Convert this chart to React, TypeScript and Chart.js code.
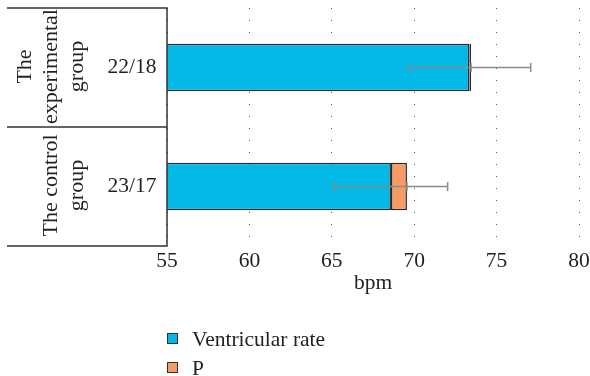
import React, { useEffect, useRef } from 'react';
import { Chart, registerables } from 'chart.js';

Chart.register(...registerables);

const categories = ['The experimental group', 'The control group'];
const groupLines = [['The', 'experimental', 'group'], ['The control', 'group']];
const sampleLabels = ['22/18', '23/17'];
const ventricularRate = [73.35, 68.59];
const pValues = [0.1, 0.97];
const errLow = [69.7, 65.15];
const errHigh = [77.07, 72.03];
const xMin = 55;
const xMax = 80;
const xStep = 5;
const xTitle = 'bpm';
const seriesNames = ['Ventricular rate', 'P'];
const seriesColors = ['#03B7E6', '#F89A66'];

const FONT = "'Liberation Serif', 'Times New Roman', serif";
const TEXT = '#231f20';
const FS = 21.5;

const tablePlugin = {
  id: 'tablePlugin',
  afterDraw(chart: any) {
    const { ctx, chartArea } = chart;
    const y = chart.scales.y;
    ctx.save();
    ctx.strokeStyle = '#333';
    ctx.lineWidth = 1.5;
    const left = 7;
    const bounds: number[] = [chartArea.top];
    for (let i = 0; i < categories.length - 1; i++) {
      bounds.push((y.getPixelForValue(i) + y.getPixelForValue(i + 1)) / 2);
    }
    bounds.push(chartArea.bottom);
    ctx.beginPath();
    bounds.forEach((b) => {
      ctx.moveTo(left, b);
      ctx.lineTo(chartArea.left, b);
    });
    ctx.moveTo(chartArea.left, chartArea.top - 0.75);
    ctx.lineTo(chartArea.left, chartArea.bottom + 0.75);
    ctx.stroke();

    ctx.fillStyle = TEXT;
    categories.forEach((_, i) => {
      const cy = y.getPixelForValue(i);
      ctx.font = `${FS}px ${FONT}`;
      ctx.textAlign = 'center';
      ctx.textBaseline = 'middle';
      ctx.fillText(sampleLabels[i], 132, cy);
      const lines = groupLines[i];
      ctx.font = `22px ${FONT}`;
      lines.forEach((line, j) => {
        const bx = 83 - 26 * (lines.length - 1 - j);
        ctx.save();
        ctx.translate(bx, cy - 1);
        ctx.rotate(-Math.PI / 2);
        ctx.textAlign = 'center';
        ctx.textBaseline = 'alphabetic';
        ctx.fillText(line, 0, 0);
        ctx.restore();
      });
    });

    // legend
    const legendY = [346, 375];
    seriesNames.forEach((name, i) => {
      const by = legendY[i];
      ctx.fillStyle = seriesColors[i];
      ctx.fillRect(167, by - 13, 11, 11);
      ctx.lineWidth = 1;
      ctx.strokeStyle = '#333';
      ctx.strokeRect(167.5, by - 12.5, 10, 10);
      ctx.fillStyle = TEXT;
      ctx.font = `${FS}px ${FONT}`;
      ctx.textAlign = 'left';
      ctx.textBaseline = 'alphabetic';
      ctx.fillText(name, 192, by);
    });
    ctx.restore();
  },
};

const errorBarPlugin = {
  id: 'errorBarPlugin',
  afterDatasetsDraw(chart: any) {
    const { ctx } = chart;
    const x = chart.scales.x;
    const y = chart.scales.y;
    ctx.save();
    ctx.strokeStyle = '#8a8a8a';
    ctx.lineWidth = 1.5;
    categories.forEach((_, i) => {
      const cy = y.getPixelForValue(i);
      const x1 = x.getPixelForValue(errLow[i]);
      const x2 = x.getPixelForValue(errHigh[i]);
      const xm = x.getPixelForValue(ventricularRate[i] + pValues[i]);
      ctx.beginPath();
      ctx.moveTo(x1, cy);
      ctx.lineTo(x2, cy);
      [x1, xm, x2].forEach((px) => {
        ctx.moveTo(px, cy - 4.5);
        ctx.lineTo(px, cy + 4.5);
      });
      ctx.stroke();
    });
    ctx.restore();
  },
};

export default function App() {
  const ref = useRef<HTMLCanvasElement | null>(null);
  useEffect(() => {
    document.body.style.margin = '0';
    Chart.defaults.font.family = FONT;
    Chart.defaults.color = TEXT;
    const chart = new Chart(ref.current as HTMLCanvasElement, {
      type: 'bar',
      data: {
        labels: categories,
        datasets: [
          {
            label: seriesNames[0],
            data: ventricularRate,
            backgroundColor: seriesColors[0],
            borderColor: '#2a2a2a',
            borderWidth: 1.5,
            borderSkipped: false,
            barPercentage: 0.4,
            categoryPercentage: 1,
          },
          {
            label: seriesNames[1],
            data: pValues,
            backgroundColor: seriesColors[1],
            borderColor: '#2a2a2a',
            borderWidth: 1.5,
            borderSkipped: false,
            barPercentage: 0.4,
            categoryPercentage: 1,
          },
        ],
      },
      options: {
        indexAxis: 'y',
        responsive: false,
        animation: false,
        layout: { padding: { left: 167, right: 11, top: 8, bottom: 80 } },
        plugins: { legend: { display: false }, tooltip: { enabled: false } },
        scales: {
          x: {
            stacked: true,
            min: xMin,
            max: xMax,
            ticks: { stepSize: xStep, font: { size: FS }, color: TEXT, padding: 2 },
            grid: { color: '#555', lineWidth: 1, drawTicks: false },
            border: { display: false, dash: [1, 11] },
            title: { display: true, text: xTitle, font: { size: FS }, color: TEXT, padding: 0 },
            afterFit: (scale: any) => {
              scale.height = 50;
              scale.paddingLeft = 0;
              scale.paddingRight = 0;
            },
          },
          y: {
            stacked: true,
            display: false,
            grid: { display: false },
          },
        },
      },
      plugins: [errorBarPlugin, tablePlugin],
    } as any);
    return () => chart.destroy();
  }, []);
  return (
    <div style={{ width: 590, height: 376 }}>
      <canvas ref={ref} width={590} height={376} style={{ display: 'block' }} />
    </div>
  );
}
